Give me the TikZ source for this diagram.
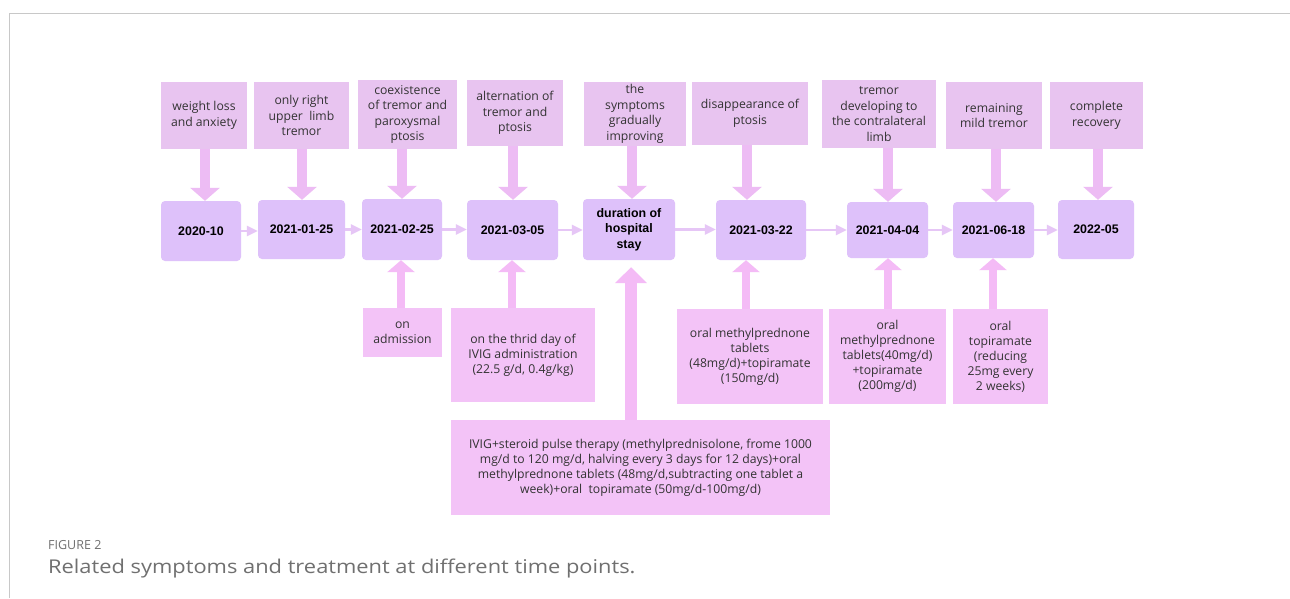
\documentclass[tikz,border=0pt]{standalone}
\usepackage{fontspec}
\usepackage{graphicx}
\setmainfont{Open Sans}
\newfontfamily\datefont{Liberation Sans}
\usetikzlibrary{arrows.meta,calc}
\definecolor{topfill}{HTML}{E8C4F0}
\definecolor{datefill}{HTML}{DEC1FA}
\definecolor{botfill}{HTML}{F3C3F7}
\definecolor{arrtop}{HTML}{EDBCF4}
\definecolor{arrbot}{HTML}{F4BBF6}
\definecolor{linkc}{HTML}{E6C6F6}
\definecolor{txt}{HTML}{333333}
\definecolor{capc}{HTML}{707070}
\definecolor{framec}{HTML}{C8C8C8}
\begin{document}
\begin{tikzpicture}[x=1pt,y=-1pt,
  topbox/.style={fill=topfill, draw=none, align=center, inner sep=0pt, text=txt, font={\fontsize{12.2}{15.5}\selectfont}},
  botbox/.style={fill=botfill, draw=none, align=center, inner sep=0pt, text=txt, font={\fontsize{12.2}{15}\selectfont}},
  datebox/.style={fill=datefill, draw=none, rounded corners=4pt, align=center, inner sep=0pt, text=black, font={\datefont\bfseries\fontsize{12.4}{15.5}\selectfont}},
  downarr/.style={draw=arrtop, line width=10pt, -{Triangle[length=13pt,width=29pt]}},
  uparr/.style={draw=arrbot, line width=8pt, -{Triangle[length=12pt,width=27pt]}},
  bigup/.style={draw=arrbot, line width=12pt, -{Triangle[length=16pt,width=31pt]}},
  link/.style={draw=linkc, line width=2.5pt, -{Triangle[length=11pt,width=10pt]}},
  caption/.style={anchor=base west, inner sep=0pt, text=capc}
]
\useasboundingbox (0,0) rectangle (1290,598);
\fill[white] (0,0) rectangle (1290,598);
\draw[framec, line width=1.2pt] (9.5,598) -- (9.5,13.5) -- (1290,13.5);

% symptom boxes
\node[topbox, minimum width=86pt, minimum height=67pt] (t1) at (204,115.5) {weight loss\\and anxiety};
\node[topbox, minimum width=95pt, minimum height=67pt] (t2) at (301.5,115.5) {only right\\upper\ \ limb\\tremor};
\node[topbox, minimum width=99pt, minimum height=69pt] (t3) at (407.5,114.5) {coexistence\\of tremor and\\paroxysmal\\ptosis};
\node[topbox, minimum width=96pt, minimum height=66pt] (t4) at (515,113) {alternation of\\tremor and\\ptosis};
\node[topbox, minimum width=102pt, minimum height=64pt] (t5) at (635,114) {the\\symptoms\\gradually\\improving};
\node[topbox, minimum width=116pt, minimum height=63pt] (t6) at (750,113.5) {disappearance of\\ptosis};
\node[topbox, minimum width=114pt, minimum height=68pt] (t7) at (879,114) {tremor\\developing to\\the contralateral\\limb};
\node[topbox, minimum width=96pt, minimum height=67pt] (t8) at (994,115.5) {remaining\\mild tremor};
\node[topbox, minimum width=93pt, minimum height=67pt] (t9) at (1096.5,115.5) {complete\\recovery};

% date boxes
\node[datebox, minimum width=80pt, minimum height=60pt] (d1) at (201,231) {2020-10};
\node[datebox, minimum width=87pt, minimum height=59pt] (d2) at (301.5,229.5) {2021-01-25};
\node[datebox, minimum width=80pt, minimum height=61pt] (d3) at (402,229.5) {2021-02-25};
\node[datebox, minimum width=91pt, minimum height=60pt] (d4) at (512.5,230) {2021-03-05};
\node[datebox, minimum width=92pt, minimum height=61pt] (d5) at (629,229.5) {duration of\\hospital\\stay};
\node[datebox, minimum width=90pt, minimum height=60pt] (d6) at (761,230) {2021-03-22};
\node[datebox, minimum width=81pt, minimum height=56pt] (d7) at (887.5,230) {2021-04-04};
\node[datebox, minimum width=81pt, minimum height=56pt] (d8) at (993.5,230) {2021-06-18};
\node[datebox, minimum width=76pt, minimum height=59pt] (d9) at (1096,229.5) {2022-05};

% treatment boxes
\node[botbox, minimum width=79pt, minimum height=49pt] (b1) at (402.5,332.5) {on\\admission};
\node[botbox, minimum width=144pt, minimum height=94pt] (b2) at (523,355) {on the thrid day of\\IVIG administration\\(22.5 g/d, 0.4g/kg)};
\node[botbox, minimum width=146pt, minimum height=95pt] (b3) at (750,356.5) {oral methylprednone\\tablets\\(48mg/d)+topiramate\\(150mg/d)};
\node[botbox, minimum width=117pt, minimum height=95pt] (b4) at (887.5,356.5) {oral\\methylprednone\\tablets(40mg/d)\\+topiramate\\(200mg/d)};
\node[botbox, minimum width=95pt, minimum height=95pt] (b5) at (1000.5,356.5) {oral\\topiramate\\(reducing\\25mg every\\2 weeks)};
\node[botbox, minimum width=379pt, minimum height=95pt] (b6) at (640.5,467.5) {IVIG+steroid pulse therapy (methylprednisolone, frome 1000\\mg/d to 120 mg/d, halving every 3 days for 12 days)+oral\\methylprednone tablets (48mg/d,subtracting one tablet a\\week)+oral\ \ topiramate (50mg/d-100mg/d)};

% arrow columns
\coordinate (a1) at (205,0);
\coordinate (a2) at (302,0);
\coordinate (a3) at (402,0);
\coordinate (a4) at (513,0);
\coordinate (a5) at (632,0);
\coordinate (a6) at (747,0);
\coordinate (a7) at (888,0);
\coordinate (a8) at (996,0);
\coordinate (a9) at (1098,0);
\coordinate (u3) at (401,0);
\coordinate (u4) at (512,0);
\coordinate (u5) at (631,0);
\coordinate (u6) at (746,0);
\coordinate (u7) at (888,0);
\coordinate (u8) at (993,0);

% symptom arrows
\draw[downarr] (t1.south -| a1) -- (d1.north -| a1);
\draw[downarr] (t2.south -| a2) -- (d2.north -| a2);
\draw[downarr] (t3.south -| a3) -- (d3.north -| a3);
\draw[downarr] (t4.south -| a4) -- (d4.north -| a4);
\draw[downarr] (t5.south -| a5) -- (d5.north -| a5);
\draw[downarr] (t6.south -| a6) -- (d6.north -| a6);
\draw[downarr] (t7.south -| a7) -- (d7.north -| a7);
\draw[downarr] (t8.south -| a8) -- (d8.north -| a8);
\draw[downarr] (t9.south -| a9) -- (d9.north -| a9);

% treatment arrows
\draw[uparr] (b1.north -| u3) -- (d3.south -| u3);
\draw[uparr] (b2.north -| u4) -- (d4.south -| u4);
\draw[bigup] (b6.north -| u5) -- ($(d5.south -| u5)+(0,7)$);
\draw[uparr] (b3.north -| u6) -- (d6.south -| u6);
\draw[uparr] (b4.north -| u7) -- (d7.south -| u7);
\draw[uparr] (b5.north -| u8) -- (d8.south -| u8);

% timeline links
\draw[link] (d1.east) -- (d1.east -| d2.west);
\draw[link] (d2.east) -- (d2.east -| d3.west);
\draw[link] (d3.east) -- (d3.east -| d4.west);
\draw[link] (d4.east) -- (d4.east -| d5.west);
\draw[link] (d5.east) -- (d5.east -| d6.west);
\draw[link] (d6.east) -- (d6.east -| d7.west);
\draw[link] (d7.east) -- (d7.east -| d8.west);
\draw[link] (d8.east) -- (d8.east -| d9.west);

% caption
\node[caption, font={\fontsize{12.5}{15}\selectfont}] (fig) at (48,549) {FIGURE 2};
\node[caption, font={\fontsize{19}{22}\selectfont}] (cap) at (48,573) {\scalebox{1.15}[1]{Related symptoms and treatment at different time points.}};
\end{tikzpicture}
\end{document}
